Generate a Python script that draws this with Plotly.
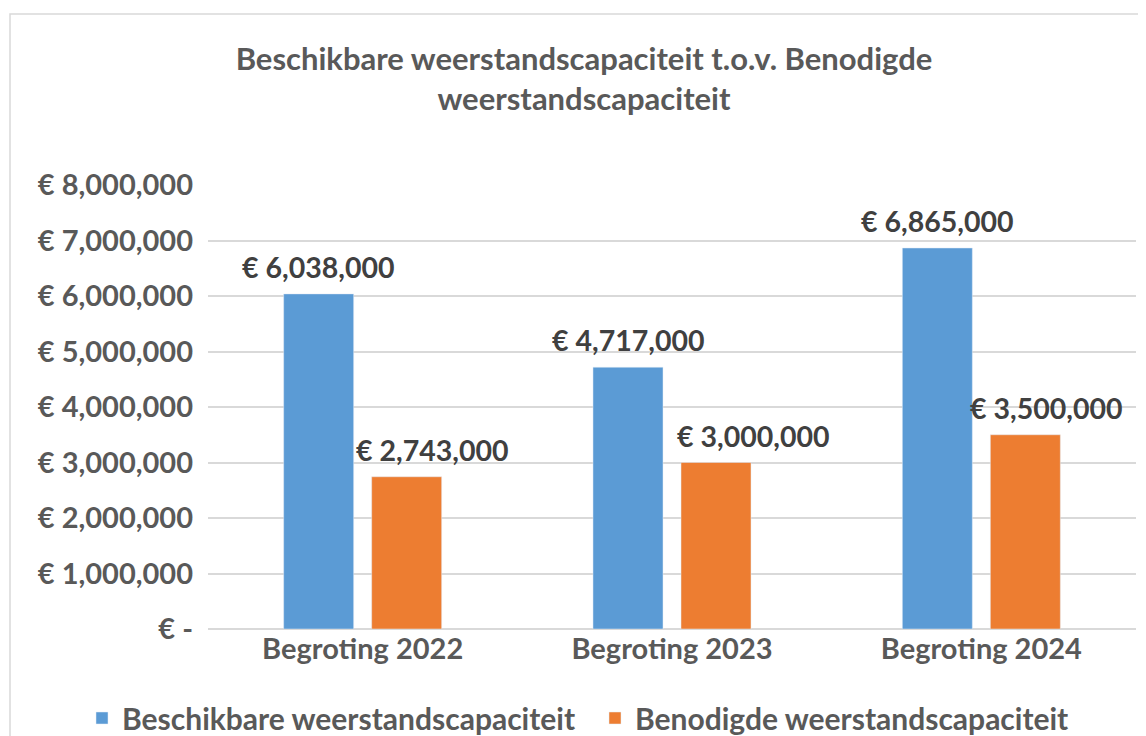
import plotly.graph_objects as go

categories = ["Begroting 2022", "Begroting 2023", "Begroting 2024"]
beschikbaar = [6038000, 4717000, 6865000]
benodigd = [2743000, 3000000, 3500000]
tick_values = [0, 1000000, 2000000, 3000000, 4000000, 5000000, 6000000, 7000000, 8000000]
tick_labels = ["€ -", "€ 1,000,000", "€ 2,000,000", "€ 3,000,000", "€ 4,000,000",
               "€ 5,000,000", "€ 6,000,000", "€ 7,000,000", "€ 8,000,000"]

FONT = "Lato"
GREY = "#595959"
DARK = "#404040"

# page has an 8px body margin; figure is sized to the visible area
W, H = 1138, 728
L, R, T, B = 200, 10, 177, 107
PW, PH = W - L - R, H - T - B

# label placement (pixels): bar centre offset within group, extra shift of orange labels
BAR_OFFSET = 44
ORANGE_LABEL_SHIFT = [26, 37, 21]

def fmt(v):
    return "€ {:,}".format(v)

fig = go.Figure()
fig.add_trace(go.Bar(
    name="Beschikbare weerstandscapaciteit", x=categories, y=beschikbaar,
    marker_color="#5B9BD5",
))
fig.add_trace(go.Bar(
    name="Benodigde weerstandscapaciteit", x=categories, y=benodigd,
    marker_color="#ED7D31",
))

annotations = []
for i, cat in enumerate(categories):
    annotations.append(dict(
        x=cat, y=beschikbaar[i], xref="x", yref="y", text=fmt(beschikbaar[i]),
        showarrow=False, xanchor="center", yanchor="bottom",
        xshift=-BAR_OFFSET, yshift=8,
        font=dict(family=FONT, size=28.5, color=DARK, weight="bold"),
    ))
    annotations.append(dict(
        x=cat, y=benodigd[i], xref="x", yref="y", text=fmt(benodigd[i]),
        showarrow=False, xanchor="center", yanchor="bottom",
        xshift=BAR_OFFSET + ORANGE_LABEL_SHIFT[i], yshift=8,
        font=dict(family=FONT, size=28.5, color=DARK, weight="bold"),
    ))

fig.update_layout(
    width=W, height=H,
    margin=dict(l=L, r=R, t=T, b=B, autoexpand=False),
    paper_bgcolor="white", plot_bgcolor="white",
    barmode="group", bargap=0.431, bargroupgap=0.2045,
    font=dict(family=FONT, color=GREY, weight="bold"),
    title=dict(
        text="Beschikbare weerstandscapaciteit t.o.v. Benodigde<br>weerstandscapaciteit",
        x=576 / W, xref="container", xanchor="center",
        y=1 - 62 / H, yref="container", yanchor="middle",
        font=dict(family=FONT, size=31, color=GREY, weight="bold"),
    ),
    legend=dict(
        orientation="h", xref="paper", x=(74 - L) / PW, xanchor="left",
        yref="paper", y=(PH - (710 - T)) / PH, yanchor="middle",
        font=dict(family=FONT, size=30, color=GREY, weight="bold"),
        bgcolor="rgba(0,0,0,0)", entrywidth=468, itemwidth=30,
    ),
    xaxis=dict(
        showgrid=False, showline=False, ticks="",
        tickfont=dict(family=FONT, size=29, color=GREY, weight="bold"),
    ),
    yaxis=dict(
        range=[0, 8000000], tickvals=tick_values, ticktext=tick_labels,
        showgrid=True, gridcolor="#D9D9D9", gridwidth=1.5,
        zeroline=True, zerolinecolor="#D9D9D9", zerolinewidth=1.5,
        showline=False, ticks="", ticklabelstandoff=14,
        tickfont=dict(family=FONT, size=29, color=GREY, weight="bold"),
    ),
    annotations=annotations,
    shapes=[dict(
        type="rect", xref="paper", yref="paper",
        x0=(2 - L) / PW, x1=1.2, y0=-0.5, y1=(PH + T - 6) / PH,
        line=dict(color="#D9D9D9", width=1.5), fillcolor="rgba(0,0,0,0)",
        layer="below",
    )],
)

fig.write_html("out.html")
